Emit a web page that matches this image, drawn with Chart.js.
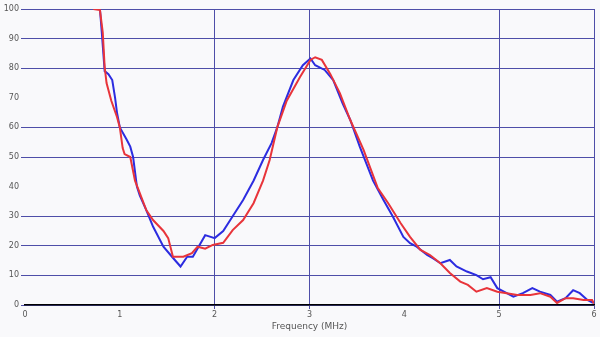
<!DOCTYPE html>
<html>
<head>
<meta charset="utf-8">
<script src="https://cdn.jsdelivr.net/npm/chart.js@4"></script>
<style>
  html, body { margin: 0; padding: 0; background: #f9f9fb; }
  canvas { display: block; }
</style>
</head>
<body>
<canvas id="chart" width="600" height="337"></canvas>
<script>
const blueX = [0.79, 0.81, 0.84, 0.88, 0.92, 0.95, 0.97, 1.00, 1.07, 1.11, 1.14, 1.18, 1.21, 1.28, 1.35, 1.46, 1.55, 1.64, 1.71, 1.77,
  1.90, 2.00, 2.09, 2.19, 2.30, 2.41, 2.51, 2.60, 2.66, 2.72, 2.83, 2.93, 3.01, 3.06, 3.16, 3.25, 3.35, 3.43, 3.53, 3.67,
  3.78, 3.88, 3.99, 4.06, 4.13, 4.24, 4.30, 4.38, 4.48, 4.55, 4.66, 4.76, 4.83, 4.91, 4.98, 5.08, 5.15, 5.25, 5.35, 5.43,
  5.54, 5.61, 5.70, 5.78, 5.85, 5.93, 5.99]
const blueY = [100, 92, 79, 78, 76, 70, 65, 60, 56, 53.5, 50, 40, 37, 32, 26.5, 19.7, 16.3, 13, 16.3, 16.3,
  23.6, 22.6, 25, 30, 35.5, 42, 49, 54.7, 60, 67, 76, 81, 83.3, 81, 79.4, 76, 68, 62.5, 53.5, 42,
  35.5, 29.8, 23, 20.9, 19.7, 16.9, 15.8, 14.1, 15.2, 13, 11.3, 10.1, 8.7, 9.4, 5.7, 4, 2.8, 4, 5.7, 4.5,
  3.4, 1.1, 2.3, 5, 4, 1.7, 0.7]

const redX = [0.72, 0.79, 0.82, 0.84, 0.86, 0.91, 0.97, 1.00, 1.03, 1.05, 1.11, 1.16, 1.28, 1.35, 1.46, 1.51, 1.56, 1.67, 1.76, 1.82,
  1.90, 1.98, 2.09, 2.19, 2.30, 2.41, 2.51, 2.58, 2.66, 2.76, 2.90, 3.01, 3.06, 3.13, 3.22, 3.32, 3.43, 3.57, 3.72, 3.83,
  3.96, 4.06, 4.17, 4.27, 4.38, 4.48, 4.59, 4.67, 4.76, 4.87, 4.98, 5.08, 5.19, 5.33, 5.43, 5.54, 5.61, 5.70, 5.78, 5.89,
  5.98, 6.00]
const redY = [100, 99.7, 92, 80.4, 75, 69, 63.5, 60, 53, 51, 50, 42, 32, 28.7, 25, 22.6, 16.3, 16.3, 17.5, 19.7,
  19, 20.3, 21, 25.3, 28.7, 34.4, 42, 49, 60, 69, 77, 82.8, 83.7, 82.8, 78, 71.6, 62.5, 52.4, 39.5, 34.4,
  27.7, 23, 18.6, 16.9, 14.1, 10.8, 7.9, 6.8, 4.5, 5.7, 4.5, 4, 3.4, 3.4, 4, 2.8, 0.7, 2.3, 2.3, 1.7,
  1.7, 0.5]

const xTicks = [0, 1, 2, 3, 4, 5, 6]
const xGridAt = [2, 3, 5, 6]
const yGridSkip = [40, 70]

const toPoints = (xs, ys) => xs.map((x, i) => ({ x: x, y: ys[i] }))

const gridColor = "rgb(78,78,168)"
const textColor = "#555"

new Chart(document.getElementById("chart").getContext("2d"), {
  type: "scatter",
  data: {
    datasets: [
      {
        label: "red",
        data: toPoints(redX, redY),
        showLine: true,
        borderColor: "#e8343a",
        borderWidth: 2,
        pointRadius: 0,
        tension: 0,
        order: 0,
      },
      {
        label: "blue",
        data: toPoints(blueX, blueY),
        showLine: true,
        borderColor: "#2c2ce0",
        borderWidth: 2,
        pointRadius: 0,
        tension: 0,
        order: 1,
      },
    ],
  },
  options: {
    responsive: false,
    animation: false,
    layout: { padding: { top: 9, right: 6, left: 0, bottom: 0 } },
    plugins: { legend: { display: false }, tooltip: { enabled: false } },
    scales: {
      x: {
        type: "linear",
        min: 0,
        max: 6,
        afterBuildTicks: (scale) => { scale.ticks = xTicks.map((v) => ({ value: v })) },
        afterFit: (scale) => { scale.height = 32 },
        border: { display: true, color: "#000", width: 1.5 },
        grid: {
          color: (ctx) => (xGridAt.includes(ctx.tick && ctx.tick.value) ? gridColor : "rgba(0,0,0,0)"),
          lineWidth: 1,
          tickLength: 4,
        },
        ticks: { color: textColor, font: { family: "DejaVu Sans", size: 8 }, padding: 1 },
        title: {
          display: true,
          text: "Frequency (MHz)",
          color: textColor,
          font: { family: "DejaVu Sans", size: 9 },
          padding: { top: 0, bottom: 5 },
        },
      },
      y: {
        min: 0,
        max: 100,
        afterFit: (scale) => { scale.width = 25 },
        border: { display: false },
        grid: {
          color: (ctx) => (yGridSkip.includes(ctx.tick && ctx.tick.value) ? "rgba(0,0,0,0)" : gridColor),
          lineWidth: 1,
          tickLength: 4,
        },
        ticks: { stepSize: 10, color: textColor, font: { family: "DejaVu Sans", size: 8 }, padding: 2 },
      },
    },
  },
})
</script>
</body>
</html>
